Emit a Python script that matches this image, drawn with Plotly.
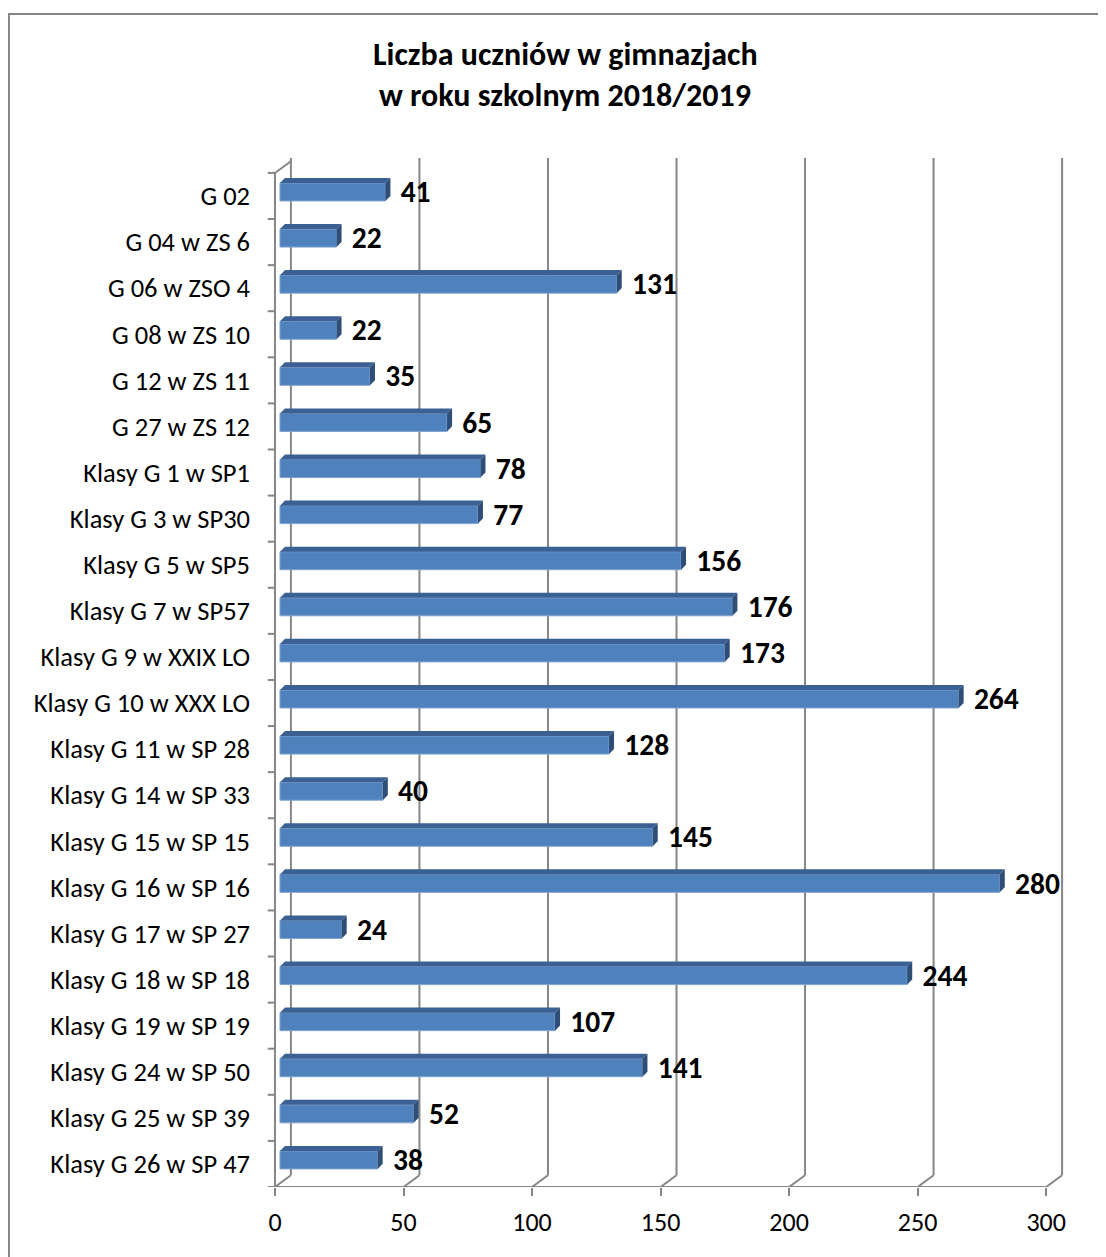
import plotly.graph_objects as go

categories = [
    "G 02", "G 04 w ZS 6", "G 06 w ZSO 4", "G 08 w ZS 10", "G 12 w ZS 11",
    "G 27 w ZS 12", "Klasy G 1 w SP1", "Klasy G 3 w SP30", "Klasy G 5 w SP5",
    "Klasy G 7 w SP57", "Klasy G 9 w XXIX LO", "Klasy G 10 w XXX LO",
    "Klasy G 11 w SP 28", "Klasy G 14 w SP 33", "Klasy G 15 w SP 15",
    "Klasy G 16 w SP 16", "Klasy G 17 w SP 27", "Klasy G 18 w SP 18",
    "Klasy G 19 w SP 19", "Klasy G 24 w SP 50", "Klasy G 25 w SP 39",
    "Klasy G 26 w SP 47",
]
students = [41, 22, 131, 22, 35, 65, 78, 77, 156, 176, 173, 264,
            128, 40, 145, 280, 24, 244, 107, 141, 52, 38]
x_ticks = [0, 50, 100, 150, 200, 250, 300]

FONT = "Carlito, Calibri, Lato, sans-serif"
GRID = "#868686"

# pseudo-3D geometry (data units): 1 unit x ~ 2.57px, 1 unit y ~ 46px
n = len(categories)
ypos = list(range(n))
bar_dx, bar_dy = 1.95, 0.087      # front face shift into depth
depth_dx, depth_dy = 1.95, 0.11   # bar depth (top / side faces)
half_h = 0.195
wall_dx, wall_dy = 6.2, 0.255     # back wall offset
y_floor = n - 0.5
y_top = -0.824

fig = go.Figure()

# front faces
fig.add_trace(go.Bar(
    y=[k - bar_dy for k in ypos],
    x=students,
    base=bar_dx,
    orientation="h",
    width=2 * half_h,
    marker={"color": "#4F81BD", "line": {"color": "#7FA3D0", "width": 1}},
    hoverinfo="skip",
))

# top and side faces
top_x, top_y, side_x, side_y = [], [], [], []
for k, v in zip(ypos, students):
    yc = k - bar_dy
    yt, yb = yc - half_h, yc + half_h
    x0, x1 = bar_dx, v + bar_dx
    top_x += [x0, x1, x1 + depth_dx, x0 + depth_dx, x0, None]
    top_y += [yt, yt, yt - depth_dy, yt - depth_dy, yt, None]
    side_x += [x1, x1 + depth_dx, x1 + depth_dx, x1, x1, None]
    side_y += [yt, yt - depth_dy, yb - depth_dy, yb, yt, None]

fig.add_trace(go.Scatter(x=top_x, y=top_y, fill="toself", mode="lines",
                         fillcolor="#3B6194", line={"width": 0}, hoverinfo="skip"))
fig.add_trace(go.Scatter(x=side_x, y=side_y, fill="toself", mode="lines",
                         fillcolor="#2E4E78", line={"width": 0}, hoverinfo="skip"))

# value labels
fig.add_trace(go.Scatter(
    x=[v + bar_dx + depth_dx + 4 for v in students],
    y=[k - bar_dy + 0.06 for k in ypos],
    text=[str(v) for v in students],
    mode="text",
    textposition="middle right",
    textfont={"family": FONT, "size": 29.5, "color": "black", "weight": "bold"},
    hoverinfo="skip",
))

# axes walls and gridlines
shapes = []
line = {"color": GRID, "width": 2}
for t in x_ticks:
    shapes.append(dict(type="line", xref="x", yref="y", x0=t + wall_dx, x1=t + wall_dx,
                       y0=y_floor - wall_dy, y1=y_top, line=line, layer="below"))
    shapes.append(dict(type="line", xref="x", yref="y", x0=t, x1=t + wall_dx,
                       y0=y_floor, y1=y_floor - wall_dy, line=line, layer="below"))
shapes.append(dict(type="line", xref="x", yref="y", x0=0, x1=x_ticks[-1],
                   y0=y_floor, y1=y_floor, line=line, layer="below"))
shapes.append(dict(type="line", xref="x", yref="y", x0=0, x1=0,
                   y0=y_floor, y1=-0.5, line=line, layer="below"))
shapes.append(dict(type="line", xref="x", yref="y", x0=0, x1=wall_dx,
                   y0=-0.5, y1=-0.5 - wall_dy, line=line, layer="below"))
for k in range(n + 1):
    shapes.append(dict(type="line", xref="x", yref="y", x0=-2.8, x1=0,
                       y0=k - 0.5, y1=k - 0.5, line=line, layer="below"))

# chart border
shapes.append(dict(type="rect", xref="paper", yref="paper", x0=-0.3186, x1=1.2,
                   y0=-0.2, y1=1.1399, line={"color": GRID, "width": 2}))

fig.update_layout(
    width=1098,
    height=1249,
    margin={"l": 259, "r": 29, "t": 150, "b": 70},
    paper_bgcolor="white",
    plot_bgcolor="white",
    showlegend=False,
    barmode="overlay",
    shapes=shapes,
    font={"family": FONT, "size": 26.5, "color": "black"},
    annotations=[
        dict(text="<b>Liczba uczniów w gimnazjach</b>", xref="paper", yref="paper",
             x=0.368, y=1.1001, yanchor="middle", showarrow=False, font={"size": 32}),
        dict(text="<b>w roku szkolnym 2018/2019</b>", xref="paper", yref="paper",
             x=0.368, y=1.0612, yanchor="middle", showarrow=False, font={"size": 32}),
    ],
)
fig.update_xaxes(
    range=[-3.1, 312],
    tickvals=x_ticks,
    ticks="outside",
    ticklen=8,
    tickwidth=2,
    tickcolor=GRID,
    tickfont={"size": 26},
    showgrid=False,
    zeroline=False,
    showline=False,
    ticklabelstandoff=4,
)
fig.update_yaxes(
    range=[y_floor, y_top],
    tickvals=ypos,
    ticktext=categories,
    ticks="",
    showgrid=False,
    zeroline=False,
    showline=False,
    ticklabelstandoff=16,
)

fig.write_html("out.html")
